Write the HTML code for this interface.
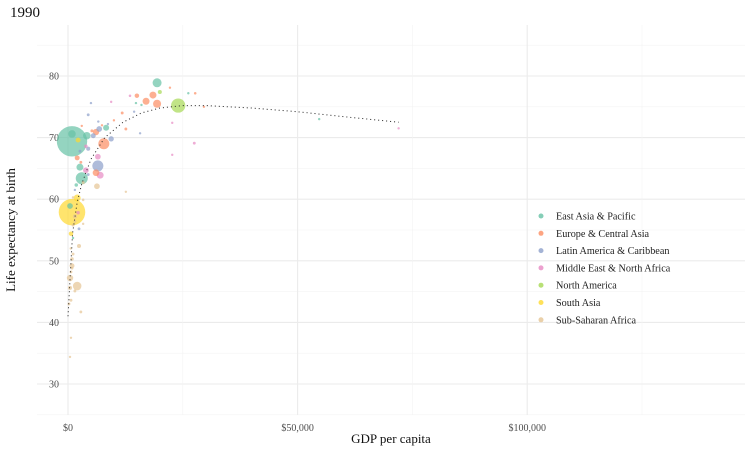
<!DOCTYPE html>
<html><head><meta charset="utf-8"><style>
body{margin:0;background:#fff}
svg{display:block;font-family:"Liberation Serif",serif}
</style></head><body>
<svg id="c" width="750" height="450"></svg>
<script>
const regions=["East Asia & Pacific","Europe & Central Asia","Latin America & Caribbean","Middle East & North Africa","North America","South Asia","Sub-Saharan Africa"];
const colors=["#66c2a5","#fc8d62","#8da0cb","#e78ac3","#a6d854","#ffd92f","#e5c494"];
const xTicks=[0,50000,100000];
const xTickLabels=["$0","$50,000","$100,000"];
const yTicks=[30,40,50,60,70,80];
// [gdp, life, population(millions), regionIndex]
const points=[
[870,69.4,1140,0],[870,70.6,70,0],[2200,69.6,30,5],[4100,70.3,70,0],[6100,70.9,50,1],[6800,71.4,40,2],[8300,71.6,45,0],
[7800,69.0,150,1],[9400,69.8,35,2],[6500,65.4,150,2],[7000,63.9,60,3],[6100,64.3,55,1],[6500,66.9,40,3],[2600,65.2,60,0],
[3000,63.4,180,0],[3900,64.7,40,3],[6300,62.1,40,6],[2000,60.2,60,5],[870,57.9,870,5],[440,58.9,40,0],[2000,66.7,30,1],
[3000,71.9,5,1],[5000,75.6,3,2],[4400,73.7,10,2],[11800,74.0,10,1],[12600,71.4,10,1],[19400,78.9,100,0],[18500,76.9,60,1],
[17000,75.9,60,1],[19400,75.5,80,1],[20000,77.4,20,4],[15000,76.8,25,1],[13500,76.8,8,3],[14800,75.6,5,0],[14400,74.2,5,2],
[15700,70.7,3,2],[24000,75.2,250,4],[22200,78.1,2,1],[26200,77.2,2,0],[27700,77.2,8,1],[29600,75.0,2,1],[22700,72.4,2,3],
[22700,67.2,2,3],[27500,69.1,10,3],[12600,61.2,2,6],[9400,75.8,2,3],[54700,73.0,2,0],[72000,71.5,3,3],
[650,54.4,25,5],[1100,53.7,5,0],[2400,52.4,20,6],[2400,55.2,10,2],[3300,56.0,5,6],[1100,51.1,10,6],[870,50.3,15,6],
[870,49.2,30,6],[650,48.2,10,6],[440,47.2,50,6],[2000,45.9,90,6],[440,45.6,20,6],[1500,45.1,10,6],[650,43.6,10,6],
[220,43.0,10,6],[2800,41.7,10,6],[650,37.5,5,6],[440,34.4,5,6],[1500,57.2,20,6],[2200,57.8,15,3],[1500,56.4,10,6],
[1100,55.8,10,6],[3300,59.9,8,6],[1500,61.5,6,2],[4400,68.2,20,2],[5500,70.3,30,2],[3900,68.6,15,3],[6600,72.6,5,2],
[5200,71.1,10,1],[2800,66.0,10,1],[7400,72.0,5,1],[2600,67.8,10,2],[8700,72.2,5,2],[10000,72.8,6,1],[16000,75.3,3,0],
[3300,62.7,12,6],[1800,62.3,15,0],[4400,64.0,10,2],[1100,60.3,8,6],[600,52.0,6,6],[900,48.8,8,6]
];
// trend line [gdp, life]
const trendX=[0,1000,2000,3000,5000,8000,12000,16000,20000,25000,30000,40000,50000,60000,72000];
const trendY=[41,54.5,59.5,62.5,66.5,70,72.5,74,74.8,75.2,75.2,74.8,74.2,73.4,72.5];

const NS="http://www.w3.org/2000/svg";
const svg=document.getElementById('c');
const L=37,R=745,T=25,B=415;
const xs=v=>68+v*0.004592;
const ys=v=>76+(80-v)*6.16;
function mk(t,a,p){const e=document.createElementNS(NS,t);for(const k in a)e.setAttribute(k,a[k]);(p||svg).appendChild(e);return e;}
const grid=mk('g',{});


for(let v=25;v<=85;v+=5){mk('line',{x1:L,x2:R,y1:ys(v),y2:ys(v),stroke:v%10==0?'#ebebeb':'#f3f3f3','stroke-width':v%10==0?1.1:0.6},grid);}
for(let v=0;v<=150000;v+=25000){const x=xs(v);if(x>R)break;mk('line',{x1:x,x2:x,y1:T,y2:B,stroke:v%50000==0?'#ebebeb':'#f3f3f3','stroke-width':v%50000==0?1.1:0.6},grid);}
xTicks.forEach((v,i)=>{const t=mk('text',{x:xs(v),y:431,'text-anchor':'middle','font-size':10,fill:'#4d4d4d'});t.textContent=xTickLabels[i];

});
yTicks.forEach(v=>{const t=mk('text',{x:59,y:ys(v)+3.5,'text-anchor':'end','font-size':10,fill:'#4d4d4d'});t.textContent=v;

});
const pg=mk('g',{});


points.slice().sort((a,b)=>b[2]-a[2]).forEach(p=>{const c=mk('circle',{cx:xs(p[0]),cy:ys(p[1]),r:Math.max(1.2,0.45*Math.sqrt(p[2])),fill:colors[p[3]],'fill-opacity':0.7},pg);

});
const tl=mk('path',{d:trendX.map((x,i)=>(i?'L':'M')+xs(x)+','+ys(trendY[i])).join(''),fill:'none',stroke:'#222','stroke-width':1,'stroke-dasharray':'1,3'});


regions.forEach((r,i)=>{const g=mk('g',{});


const y=216+i*17.3;mk('circle',{cx:541,cy:y,r:2.5,fill:colors[i],'fill-opacity':0.8},g);
const t=mk('text',{x:556,y:y+3.5,'font-size':10.2,fill:'#222'},g);t.textContent=r;});
let t=mk('text',{x:10,y:17,'font-size':15,fill:'#111'});t.textContent='1990';


t=mk('text',{x:391,y:443,'text-anchor':'middle','font-size':13,fill:'#111'});t.textContent='GDP per capita';


t=mk('text',{x:0,y:0,'text-anchor':'middle','font-size':13,fill:'#111',transform:'translate(15,230) rotate(-90)'});t.textContent='Life expectancy at birth';


</script>
</body></html>
